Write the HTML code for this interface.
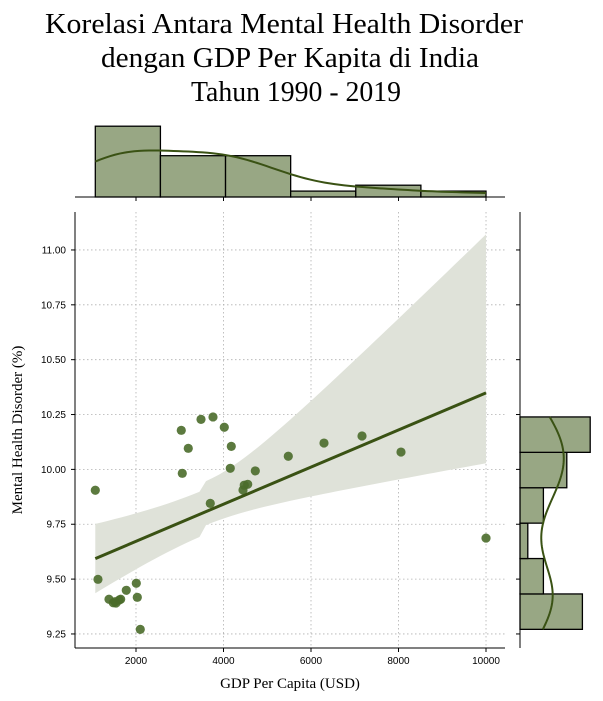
<!DOCTYPE html>
<html><head><meta charset="utf-8"><style>
html,body{margin:0;padding:0;background:#fff;}
svg{display:block;}
text{font-family:"Liberation Sans",sans-serif;}
</style></head><body>
<svg id="chart" width="603" height="701" viewBox="0 0 603 701" xmlns="http://www.w3.org/2000/svg">
<g font-size="29" fill="#000" text-anchor="middle">
<text x="284" y="33" textLength="478" lengthAdjust="spacingAndGlyphs" style="font-family:'Liberation Serif',serif">Korelasi Antara Mental Health Disorder</text>
<text x="290" y="67" textLength="378" lengthAdjust="spacingAndGlyphs" style="font-family:'Liberation Serif',serif">dengan GDP Per Kapita di India</text>
<text x="296" y="101" textLength="210" lengthAdjust="spacingAndGlyphs" style="font-family:'Liberation Serif',serif">Tahun 1990 - 2019</text>
</g>
<text x="290" y="688" text-anchor="middle" font-size="15" style="font-family:'Liberation Serif',serif">GDP Per Capita (USD)</text>
<text transform="translate(22,430) rotate(-90)" text-anchor="middle" font-size="15" style="font-family:'Liberation Serif',serif">Mental Health Disorder (%)</text>
</svg>
<script>
const gdp = [1070,1131,1383,1481,1520,1543,1618,1650,1778,2007,2030,2098,3035,3058,3195,3486,3760,3698,4018,4178,4155,4446,4475,4553,4727,5481,6297,7166,8057,10000];
const mhd = [9.905,9.499,9.408,9.392,9.397,9.391,9.405,9.408,9.449,9.481,9.417,9.271,10.178,9.982,10.096,10.228,10.239,9.845,10.192,10.105,10.005,9.906,9.928,9.932,9.993,10.060,10.120,10.152,10.079,9.687];
const xTicks = [2000,4000,6000,8000,10000];
const yTicks = [9.25,9.50,9.75,10.00,10.25,10.50,10.75,11.00];
const xTickLabels = ["2000","4000","6000","8000","10000"];
const yTickLabels = ["9.25","9.50","9.75","10.00","10.25","10.50","10.75","11.00"];

const NS="http://www.w3.org/2000/svg";
const svg=document.getElementById('chart');
const L=75,R=505,T=212,B=648;
const xMin=606,xMax=10434,yMin=9.186,yMax=11.173;
const sx=v=>L+(v-xMin)/(xMax-xMin)*(R-L);
const sy=v=>B-(v-yMin)/(yMax-yMin)*(B-T);
function el(tag,attrs,parent){const e=document.createElementNS(NS,tag);for(const k in attrs)e.setAttribute(k,attrs[k]);(parent||svg).appendChild(e);return e;}
const fill="#98a784",dark="#3a5214",pt="#4a6b2a";

const grid=el('g',{});


xTicks.forEach(t=>el('line',{x1:sx(t),x2:sx(t),y1:T,y2:B,stroke:'#b0b0b0','stroke-width':0.8,'stroke-dasharray':'1.5,2.5'},grid));
yTicks.forEach(t=>el('line',{x1:L,x2:R,y1:sy(t),y2:sy(t),stroke:'#b0b0b0','stroke-width':0.8,'stroke-dasharray':'1.5,2.5'},grid));

const n=gdp.length;
const mx=gdp.reduce((a,b)=>a+b)/n,my=mhd.reduce((a,b)=>a+b)/n;
let sxx=0,sxy=0;for(let i=0;i<n;i++){sxx+=(gdp[i]-mx)**2;sxy+=(gdp[i]-mx)*(mhd[i]-my);}
const b1=sxy/sxx,b0=my-b1*mx;
let sse=0;for(let i=0;i<n;i++)sse+=(mhd[i]-b0-b1*gdp[i])**2;
const se=Math.sqrt(sse/(n-2)),tq=2.05;
const gmin=Math.min(...gdp),gmax=Math.max(...gdp);
let up=[],lo=[];
for(let k=0;k<=60;k++){const x=gmin+(gmax-gmin)*k/60;const yh=b0+b1*x;const kk=x>mx?2.9:1;const h=tq*se*Math.sqrt(1/n+kk*(x-mx)**2/sxx);up.push([sx(x),sy(yh+h*(x>mx?1.35:1))]);lo.push([sx(x),sy(yh-h*(x>mx?0.6:1))]);}
const band=el('path',{d:'M'+up.map(p=>p.join(',')).join('L')+'L'+lo.reverse().map(p=>p.join(',')).join('L')+'Z',fill:'#dfe2d9'});



const pts=el('g',{});


for(let i=0;i<n;i++){const c=el('circle',{cx:sx(gdp[i]),cy:sy(mhd[i]),r:4.6,fill:pt,'fill-opacity':0.9},pts);

}
const rl=el('line',{x1:sx(gmin),y1:sy(b0+b1*gmin),x2:sx(gmax),y2:sy(b0+b1*gmax),stroke:dark,'stroke-width':3});



const ax=el('g',{stroke:'#000','stroke-width':1});


el('line',{x1:L,x2:L,y1:T,y2:B},ax);el('line',{x1:L,x2:R,y1:B,y2:B},ax);
xTicks.forEach((t,i)=>{el('line',{x1:sx(t),x2:sx(t),y1:B,y2:B+4},ax);const tx=el('text',{x:sx(t),y:B+16,'text-anchor':'middle','font-size':10,stroke:'none',fill:'#000'});tx.textContent=xTickLabels[i];
});
yTicks.forEach((t,i)=>{el('line',{x1:L-4,x2:L,y1:sy(t),y2:sy(t)},ax);const tx=el('text',{x:L-9,y:sy(t)+3.5,'text-anchor':'end','font-size':10,stroke:'none',fill:'#000'});tx.textContent=yTickLabels[i];
});

function kde(data,xs){const m=data.reduce((a,b)=>a+b)/data.length;const sd=Math.sqrt(data.reduce((a,b)=>a+(b-m)**2,0)/(data.length-1));const bw=sd*Math.pow(data.length,-0.2);return xs.map(x=>data.reduce((a,d)=>a+Math.exp(-0.5*((x-d)/bw)**2),0)/(data.length*bw*Math.sqrt(2*Math.PI)));}
const TB=197,cpx=5.9,nb=6;
const bw1=(gmax-gmin)/nb;
const topG=el('g',{});


for(let b=0;b<nb;b++){const lo_=gmin+b*bw1,hi=lo_+bw1;const c=gdp.filter(v=>v>=lo_&&(b==nb-1?v<=hi:v<hi)).length;
const r=el('rect',{x:sx(lo_),y:TB-c*cpx,width:sx(hi)-sx(lo_),height:c*cpx,fill:fill,stroke:'#000','stroke-width':1.3},topG);
}
let xs=[];for(let k=0;k<=80;k++)xs.push(gmin+(gmax-gmin)*k/80);
let ds=kde(gdp,xs);
const tk=el('path',{d:'M'+xs.map((x,i)=>sx(x)+','+(TB-ds[i]*n*bw1*cpx)).join('L'),fill:'none',stroke:dark,'stroke-width':2},topG);

el('line',{x1:L,x2:R,y1:TB,y2:TB,stroke:'#000','stroke-width':1},topG);
xTicks.forEach(t=>el('line',{x1:sx(t),x2:sx(t),y1:TB,y2:TB+4,stroke:'#000'},topG));

const RL=520,rpx=7.8;
const ymn=Math.min(...mhd),ymx=Math.max(...mhd),bw2=(ymx-ymn)/nb;
const rG=el('g',{});


for(let b=0;b<nb;b++){const lo_=ymn+b*bw2,hi=lo_+bw2;const c=mhd.filter(v=>v>=lo_&&(b==nb-1?v<=hi:v<hi)).length;
const r=el('rect',{x:RL,y:sy(hi),width:c*rpx,height:sy(lo_)-sy(hi),fill:fill,stroke:'#000','stroke-width':1.3},rG);
}
let ys=[];for(let k=0;k<=80;k++)ys.push(ymn+(ymx-ymn)*k/80);
let dy=kde(mhd,ys);
const rk=el('path',{d:'M'+ys.map((y,i)=>(RL+dy[i]*n*bw2*rpx)+','+sy(y)).join('L'),fill:'none',stroke:dark,'stroke-width':2},rG);

el('line',{x1:RL,x2:RL,y1:T,y2:B,stroke:'#000','stroke-width':1},rG);
yTicks.forEach(t=>el('line',{x1:RL-4,x2:RL,y1:sy(t),y2:sy(t),stroke:'#000'},rG));
</script>
</body></html>
